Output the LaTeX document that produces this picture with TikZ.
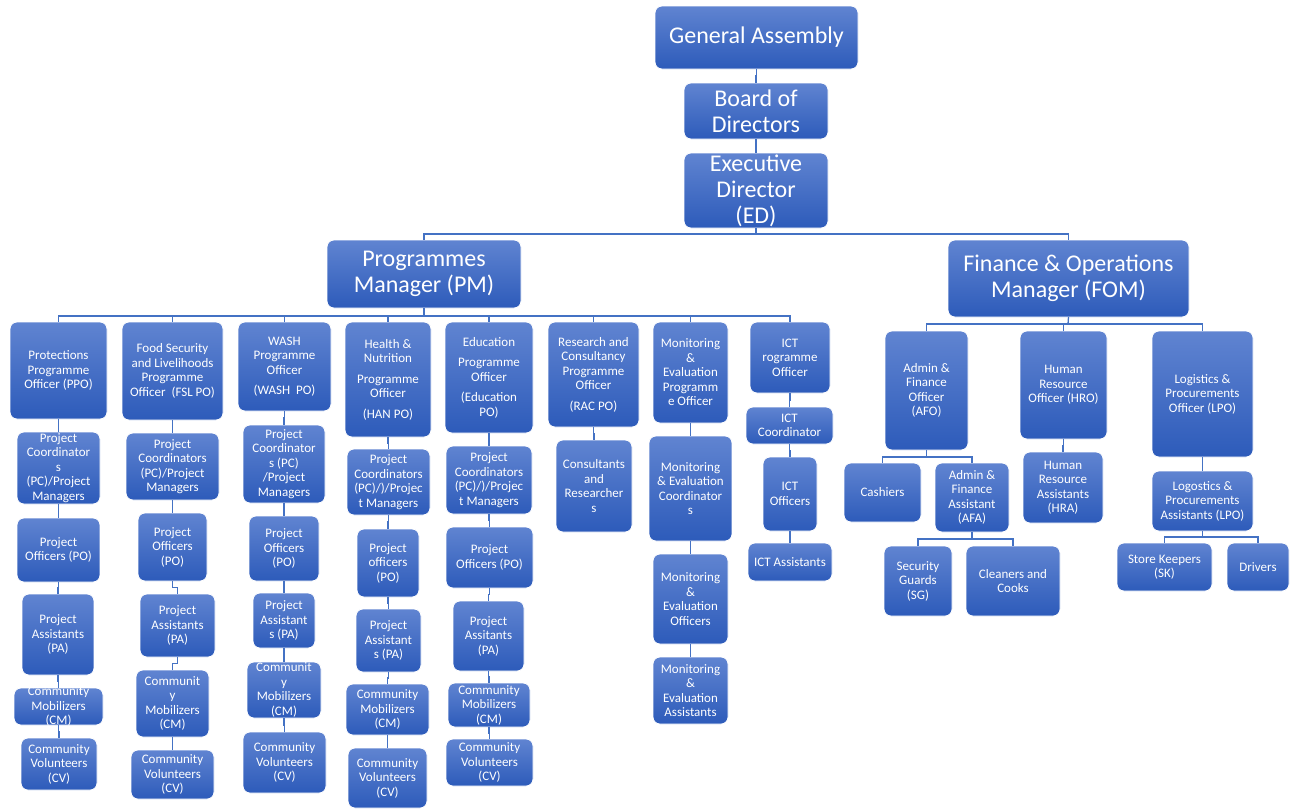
\documentclass[tikz,border=0pt]{standalone}
\usepackage{fontspec}
\setmainfont{Carlito}
\usetikzlibrary{calc}
\definecolor{boxtop}{RGB}{96,132,209}
\definecolor{boxbot}{RGB}{45,91,186}
\definecolor{lncol}{RGB}{68,114,196}
\tikzset{
  box/.style={draw=white, line width=0.8pt, rounded corners=7pt, top color=boxtop, bottom color=boxbot, inner sep=0pt, outer sep=0pt},
  txt/.style={text=white, align=center, inner sep=0pt, font=\fontsize{13}{14.5}\selectfont},
  big/.style={font=\fontsize{24}{26}\selectfont},
  conn/.style={draw=lncol, line width=1.3pt}
}
\newcommand\orgbox[7][]{%
  \pgfmathsetmacro\obw{#5-#3}\pgfmathsetmacro\obh{#6-#4}%
  \node[box,minimum width=\obw pt,minimum height=\obh pt] (#2) at ({(#3+#5)/2},{(#4+#6)/2}) {};
  \node[txt,#1] (#2t) at (#2.center) {#7};}
\begin{document}
\begin{tikzpicture}[x=1pt,y=-1pt]
\fill[white] (0,0) rectangle (1293,809);
\useasboundingbox (0,0) rectangle (1293,809);
% top
\orgbox[big]{ga}{655}{6}{858}{69}{General Assembly}
\orgbox[big]{bod}{684}{83}{828}{139}{Board of\\Directors}
\orgbox[big]{ed}{684}{153}{828}{228}{Executive\\Director\\(ED)}
\orgbox[big]{pm}{327}{240}{521}{308}{Programmes\\Manager (PM)}
\orgbox[big]{fom}{948}{240}{1189}{317}{Finance \& Operations\\Manager (FOM)}
% column 1
\orgbox{ppo}{10}{322}{107}{419}{Protections\\Programme\\Officer (PPO)}
\orgbox{pc1}{17}{432}{100}{504}{Project\\Coordinator\\s\\(PC)/Project\\Managers}
\orgbox{po1}{17}{518}{100}{582}{Project\\Officers (PO)}
\orgbox{pa1}{22}{594}{94}{675}{Project\\Assistants\\(PA)}
\orgbox{cm1}{14}{688}{103}{725}{Community\\Mobilizers\\(CM)}
\orgbox{cv1}{21}{738}{97}{790}{Community\\Volunteers\\(CV)}
% column 2
\orgbox{fsl}{122}{322}{223}{420}{Food Security\\and Livelihoods\\Programme\\Officer\ \ (FSL PO)}
\orgbox{pc2}{126}{433}{219}{500}{Project\\Coordinators\\(PC)/Project\\Managers}
\orgbox{po2}{138}{513}{207}{581}{Project\\Officers\\(PO)}
\orgbox{pa2}{140}{594}{215}{657}{Project\\Assistants\\(PA)}
\orgbox{cm2}{136}{670}{209}{737}{Communit\\y\\Mobilizers\\(CM)}
\orgbox{cv2}{131}{750}{214}{799}{Community\\Volunteers\\(CV)}
% column 3
\orgbox{wash}{238}{322}{331}{411}{WASH\\Programme\\Officer\\[6pt](WASH\ \ PO)}
\orgbox{pc3}{243}{425}{325}{503}{Project\\Coordinator\\s (PC)\\/Project\\Managers}
\orgbox{po3}{249}{516}{319}{581}{Project\\Officers\\(PO)}
\orgbox{pa3}{253}{593}{315}{648}{Project\\Assistant\\s (PA)}
\orgbox{cm3}{247}{662}{321}{718}{Communit\\y\\Mobilizers\\(CM)}
\orgbox{cv3}{243}{732}{326}{793}{Community\\Volunteers\\(CV)}
% column 4
\orgbox{han}{345}{322}{431}{437}{Health \&\\Nutrition\\[6pt]Programme\\Officer\\[6pt](HAN PO)}
\orgbox{pc4}{347}{449}{430}{515}{Project\\Coordinators\\(PC)/)/Projec\\t Managers}
\orgbox{po4}{357}{529}{419}{597}{Project\\officers\\(PO)}
\orgbox{pa4}{356}{609}{421}{672}{Project\\Assistant\\s (PA)}
\orgbox{cm4}{346}{684}{429}{735}{Community\\Mobilizers\\(CM)}
\orgbox{cv4}{348}{748}{427}{808}{Community\\Volunteers\\(CV)}
% column 5
\orgbox{edu}{445}{322}{533}{433}{Education\\[6pt]Programme\\Officer\\[6pt](Education\\PO)}
\orgbox{pc5}{446}{446}{532}{514}{Project\\Coordinators\\(PC)/)/Projec\\t Managers}
\orgbox{po5}{446}{527}{533}{588}{Project\\Officers (PO)}
\orgbox{pa5}{453}{601}{524}{671}{Project\\Assitants\\(PA)}
\orgbox{cm5}{448}{683}{530}{727}{Community\\Mobilizers\\(CM)}
\orgbox{cv5}{446}{739}{533}{786}{Community\\Volunteers\\(CV)}
% column 6
\orgbox{rac}{548}{322}{639}{427}{Research and\\Consultancy\\Programme\\Officer\\[6pt](RAC PO)}
\orgbox{cons}{556}{440}{632}{532}{Consultants\\and\\Researcher\\s}
% column 7
\orgbox{mepo}{653}{322}{728}{423}{Monitoring\\\&\\Evaluation\\Programm\\e Officer}
\orgbox{meco}{649}{436}{732}{541}{Monitoring\\\& Evaluation\\Coordinator\\s}
\orgbox{meof}{653}{554}{728}{644}{Monitoring\\\&\\Evaluation\\Officers}
\orgbox{meas}{653}{657}{728}{724}{Monitoring\\\&\\Evaluation\\Assistants}
% column 8
\orgbox{ictpo}{750}{322}{830}{393}{ICT\\rogramme\\Officer}
\orgbox{ictco}{746}{407}{833}{444}{ICT\\Coordinator}
\orgbox{ictof}{763}{457}{817}{531}{ICT\\Officers}
\orgbox{ictas}{748}{543}{832}{581}{ICT Assistants}
% finance side
\orgbox{afo}{885}{331}{968}{450}{Admin \&\\Finance\\Officer\\(AFO)}
\orgbox{hro}{1020}{331}{1107}{439}{Human\\Resource\\Officer (HRO)}
\orgbox{lpo}{1152}{331}{1253}{457}{Logistics \&\\Procurements\\Officer (LPO)}
\orgbox{cash}{844}{463}{921}{522}{Cashiers}
\orgbox{afa}{935}{463}{1009}{532}{Admin \&\\Finance\\Assistant\\(AFA)}
\orgbox{hra}{1023}{452}{1103}{523}{Human\\Resource\\Assistants\\(HRA)}
\orgbox{lpa}{1152}{471}{1253}{531}{Logostics \&\\Procurements\\Assistants (LPO)}
\orgbox{sg}{884}{546}{952}{616}{Security\\Guards\\(SG)}
\orgbox{clean}{966}{546}{1060}{616}{Cleaners and\\Cooks}
\orgbox{sk}{1117}{543}{1212}{591}{Store Keepers\\(SK)}
\orgbox{drv}{1227}{543}{1289}{591}{Drivers}
% connectors
\coordinate (edbus) at (756,234);
\draw[conn] (ed.south) -- (edbus);
\draw[conn] (pm.north) |- (edbus) -| (fom.north);
\coordinate (pmbus) at (424,316);
\draw[conn] (pm.south) -- (pmbus);
\foreach \c in {ppo,fsl,wash,han,edu,rac,mepo,ictpo}
  \draw[conn] (pmbus) -| (\c.north);
\coordinate (fombus) at (1068,324);
\draw[conn] (fom.south) -- (fombus);
\foreach \c in {afo,hro,lpo}
  \draw[conn] (fombus) -| (\c.north);
\coordinate (afobus) at (926.5,457);
\draw[conn] (afo.south) -- (afobus);
\foreach \c in {cash,afa}
  \draw[conn] (afobus) -| (\c.north);
\coordinate (afabus) at (972,539);
\draw[conn] (afa.south) -- (afabus);
\foreach \c in {sg,clean}
  \draw[conn] (afabus) -| (\c.north);
\coordinate (lpabus) at (1202.5,537);
\draw[conn] (lpa.south) -- (lpabus);
\foreach \c in {sk,drv}
  \draw[conn] (lpabus) -| (\c.north);
\foreach \a/\b in {ga/bod,bod/ed,ppo/pc1,pc1/po1,po1/pa1,pa1/cm1,cm1/cv1,
  fsl/pc2,pc2/po2,po2/pa2,pa2/cm2,cm2/cv2,
  wash/pc3,pc3/po3,po3/pa3,pa3/cm3,cm3/cv3,
  han/pc4,pc4/po4,po4/pa4,pa4/cm4,cm4/cv4,
  edu/pc5,pc5/po5,po5/pa5,pa5/cm5,cm5/cv5,
  rac/cons,mepo/meco,meco/meof,meof/meas,
  ictpo/ictco,ictco/ictof,ictof/ictas,
  hro/hra,lpo/lpa}
  \draw[conn] (\a.south) |- ($(\a.south)!.5!(\b.north)$) -| (\b.north);
\end{tikzpicture}
\end{document}
